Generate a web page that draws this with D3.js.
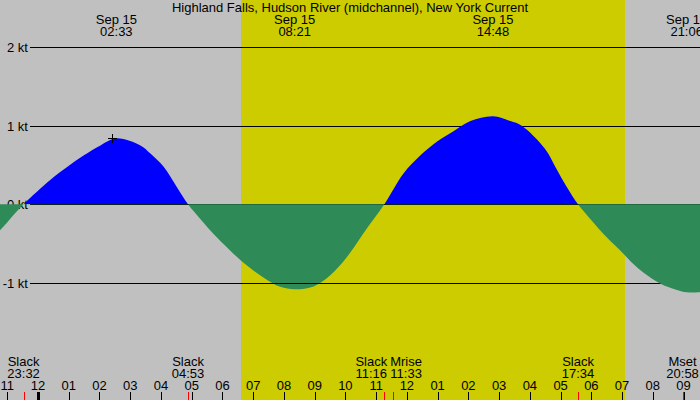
<!DOCTYPE html>
<html>
<head>
<meta charset="utf-8">
<script src="https://cdn.jsdelivr.net/npm/d3@7"></script>
<style>
  html, body { margin: 0; padding: 0; background: #c0c0c0; }
  svg { display: block; }
  text { font-family: "Liberation Sans", Arial, sans-serif; font-size: 13px; fill: #000; }
</style>
</head>
<body>
<svg id="chart" width="700" height="400"></svg>
<script>
// ---------------- data ----------------
const titleText = "Highland Falls, Hudson River (midchannel), New York Current";
const domainTimes = ["09-14 22:46", "09-15 21:32"];
const sunTimes = ["09-15 06:37", "09-15 19:06"];           // sunrise, sunset
const speedTicks = [2, 1, 0, -1];
const curveTimes = [
  "09-14 22:46", "09-14 23:00", "09-14 23:32", "09-15 00:24", "09-15 00:57", "09-15 01:29",
  "09-15 02:02", "09-15 02:33", "09-15 03:20", "09-15 03:39", "09-15 04:05", "09-15 04:31",
  "09-15 04:53", "09-15 05:16", "09-15 05:49", "09-15 06:21", "09-15 06:48", "09-15 07:20",
  "09-15 07:53", "09-15 08:21", "09-15 08:58", "09-15 09:31", "09-15 10:03", "09-15 10:35",
  "09-15 11:16", "09-15 11:53", "09-15 12:26", "09-15 12:59", "09-15 13:31", "09-15 14:04",
  "09-15 14:48", "09-15 15:22", "09-15 15:44", "09-15 16:29", "09-15 16:52", "09-15 17:12",
  "09-15 17:34", "09-15 17:57", "09-15 18:30", "09-15 19:02", "09-15 19:22", "09-15 19:42",
  "09-15 20:15", "09-15 20:47", "09-15 21:06", "09-15 21:32"
];
const curveSpeeds = [
  -0.33, -0.23, 0, 0.31, 0.475, 0.62,
  0.75, 0.84, 0.75, 0.65, 0.48, 0.22,
  0, -0.18, -0.42, -0.625, -0.78, -0.93,
  -1.05, -1.08, -1.045, -0.90, -0.67, -0.37,
  0, 0.39, 0.62, 0.80, 0.93, 1.06,
  1.12, 1.06, 1.0, 0.71, 0.45, 0.22,
  0, -0.18, -0.42, -0.625, -0.76, -0.87,
  -1.01, -1.09, -1.12, -1.12
];
const extremeTimes = ["09-15 02:33", "09-15 08:21", "09-15 14:48", "09-15 21:06"];
const extremeSpeeds = [0.84, -1.08, 1.12, -1.13];
const eventNames = ["Slack", "Slack", "Slack", "Mrise", "Slack", "Mset"];
const eventTimes = ["09-14 23:32", "09-15 04:53", "09-15 11:16", "09-15 11:33", "09-15 17:34", "09-15 20:58"];

// ---------------- setup ----------------
const W = 700, H = 400;
const parse = d3.timeParse("%m-%d %H:%M");
const svg = d3.select("#chart");

const x = d3.scaleTime().domain(domainTimes.map(parse)).range([0, W]);
const y = d3.scaleLinear().domain([-2.49, 2.6]).range([H, 0]);
const crisp = v => Math.round(v) + 0.5;

const curve = curveTimes.map((t, i) => ({ t: parse(t), v: curveSpeeds[i] }));

// background: night gray, daylight yellow
svg.append("rect").attr("x", 0).attr("y", 0).attr("width", W).attr("height", H).attr("fill", "#c0c0c0");
const sun = sunTimes.map(parse);
svg.append("rect")
  .attr("x", Math.round(x(sun[0]))).attr("y", 0)
  .attr("width", Math.round(x(sun[1])) - Math.round(x(sun[0]))).attr("height", H)
  .attr("fill", "#cccc00");

// grid lines + speed labels
const gridX0 = 30;
svg.append("g").selectAll("line").data(speedTicks).join("line")
  .attr("x1", gridX0).attr("x2", W)
  .attr("y1", d => crisp(y(d))).attr("y2", d => crisp(y(d)))
  .attr("stroke", "#000").attr("stroke-width", 1).attr("shape-rendering", "crispEdges");
svg.append("g").selectAll("text").data(speedTicks).join("text")
  .attr("x", 28).attr("y", d => y(d) + 5)
  .attr("text-anchor", "end")
  .text(d => d + " kt");

// tidal current areas
const defs = svg.append("defs");
const yZero = Math.round(y(0));
defs.append("clipPath").attr("id", "above").append("rect")
  .attr("x", 0).attr("y", 0).attr("width", W).attr("height", yZero);
defs.append("clipPath").attr("id", "below").append("rect")
  .attr("x", 0).attr("y", yZero).attr("width", W).attr("height", H - yZero);

const area = d3.area()
  .x(d => x(d.t)).y0(y(0)).y1(d => y(d.v))
  .curve(d3.curveCatmullRom.alpha(0.5));

svg.append("path").datum(curve).attr("d", area).attr("fill", "#0000ff").attr("clip-path", "url(#above)");
svg.append("path").datum(curve).attr("d", area).attr("fill", "#2e8b57").attr("clip-path", "url(#below)");

// -1 kt line shows over the first ebb
const evDates = eventTimes.map(parse);
svg.append("line")
  .attr("x1", x(evDates[1])).attr("x2", x(evDates[2]))
  .attr("y1", crisp(y(-1))).attr("y2", crisp(y(-1)))
  .attr("stroke", "#000").attr("shape-rendering", "crispEdges");

// max marker
const exDates = extremeTimes.map(parse);
const mx = Math.round(x(exDates[0])) - 4, my = Math.round(y(extremeSpeeds[0]));
svg.append("path")
  .attr("d", `M${mx - 4},${my + 0.5}H${mx + 5}M${mx + 0.5},${my - 4}V${my + 5}`)
  .attr("stroke", "#000").attr("fill", "none").attr("shape-rendering", "crispEdges");

// title
svg.append("text").attr("x", W / 2).attr("y", 12).attr("text-anchor", "middle").text(titleText);

// extreme labels at top
const fDate = d3.timeFormat("%b %d"), fTime = d3.timeFormat("%H:%M");
const topLabels = svg.append("g").selectAll("g").data(exDates).join("g")
  .attr("transform", d => `translate(${x(d)},0)`);
topLabels.append("text").attr("y", 24).attr("text-anchor", "middle").text(d => fDate(d));
topLabels.append("text").attr("y", 36).attr("text-anchor", "middle").text(d => fTime(d));

// hour ticks
const hours = d3.timeHour.range(x.domain()[0], x.domain()[1]);
const fHour = d3.timeFormat("%I");
const ax = svg.append("g");
ax.selectAll("line").data(hours).join("line")
  .attr("x1", d => crisp(x(d))).attr("x2", d => crisp(x(d)))
  .attr("y1", 392).attr("y2", H)
  .attr("stroke", "#000")
  .attr("stroke-width", d => d.getHours() === 0 ? 3 : 1)
  .attr("shape-rendering", "crispEdges");
ax.selectAll("text").data(hours).join("text")
  .attr("x", d => x(d)).attr("y", 390).attr("text-anchor", "middle")
  .text(d => fHour(d));

// event ticks (red)
svg.append("g").selectAll("line").data(evDates).join("line")
  .attr("x1", d => crisp(x(d))).attr("x2", d => crisp(x(d)))
  .attr("y1", 392).attr("y2", H)
  .attr("stroke", "#ff0000").attr("shape-rendering", "crispEdges");

// event labels (pushed apart where they collide)
const evG = svg.append("g").selectAll("g").data(eventNames.map((n, i) => ({ n, t: evDates[i] }))).join("g");
evG.append("text").attr("class", "n").attr("y", 366).attr("text-anchor", "middle").text(d => d.n);
evG.append("text").attr("class", "t").attr("y", 377.5).attr("text-anchor", "middle").text(d => fTime(d.t));
const items = [];
evG.each(function (d) {
  const g = d3.select(this);
  const w = Math.max(g.select(".n").node().getComputedTextLength(), g.select(".t").node().getComputedTextLength());
  items.push({ g, cx: x(d.t), w });
});
for (let i = 1; i < items.length; i++) {
  const a = items[i - 1], b = items[i];
  const gap = 3;
  if (a.cx + a.w / 2 + gap > b.cx - b.w / 2) {
    const mid = (a.cx + b.cx) / 2;
    a.cx = mid - gap / 2 - a.w / 2;
    b.cx = mid + gap / 2 + b.w / 2;
  }
}
items.forEach(it => it.g.attr("transform", `translate(${it.cx},0)`));
</script>
</body>
</html>
